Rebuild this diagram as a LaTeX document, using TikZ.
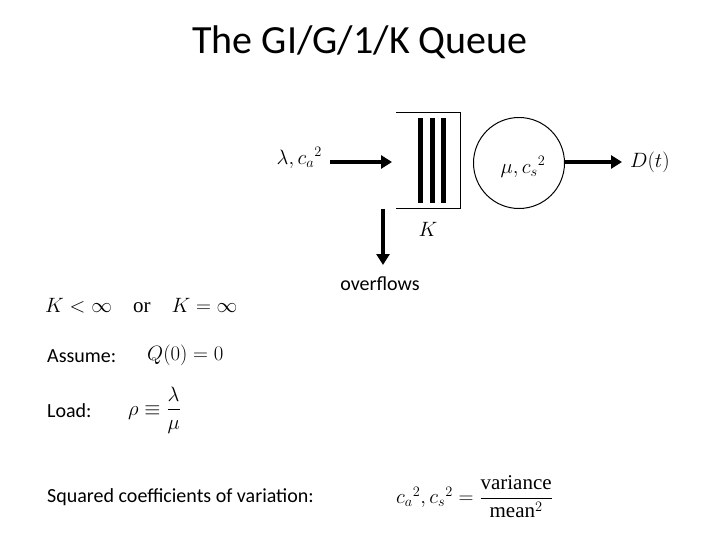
\documentclass[tikz,border=0pt]{standalone}
\usepackage{amsmath}
\usepackage{fontspec}
\setmainfont{Carlito}
\newfontfamily\tnr{Liberation Serif}
\usetikzlibrary{arrows.meta}
\begin{document}
\begin{tikzpicture}[x=1pt,y=-1pt,
  arr/.style={line width=3.5pt,-{Triangle[length=11pt,width=13pt]}},
  txt/.style={font=\fontsize{20}{24}\selectfont,anchor=west,inner sep=0},
  mth/.style={font=\fontsize{21}{25}\selectfont,inner sep=0}]
\useasboundingbox (0,0) rectangle (720,540);
\node[font=\fontsize{40}{46}\selectfont] (title) at (360,42) {The GI/G/1/K Queue};
% queue
\coordinate (b1) at (396,113);
\coordinate (b2) at (460,113);
\coordinate (b3) at (460,209);
\coordinate (b4) at (396,209);
\draw[line width=1pt] (b1) -- (b2) -- (b3) -- (b4);
\foreach \x in {420,432,443}{\draw[line width=5pt] (\x,118) -- (\x,203);}
\node[draw,circle,minimum size=91pt,line width=1pt,inner sep=0] (srv) at (519,163) {};
\node[mth] at (523,167) {$\mu,{c_s}^2$};
\node[mth,anchor=east] (lam) at (322,158) {$\lambda,{c_a}^2$};
\coordinate (in) at (392,162);
\draw[arr] (330,162) -- (in);
\node[mth,anchor=west] (dt) at (630,162) {$D(t)$};
\coordinate (out) at (622,162);
\draw[arr] (srv.east |- out) -- (out);
\node[mth] (K) at (428,229) {$K$};
\node[txt,anchor=center] (ovf) at (380,284) {overflows};
\coordinate (ovs) at (383,209);
\draw[arr] (ovs) -- (383,265);
% bottom
\node[mth,anchor=west] (k) at (45,306) {$K<\infty\quad\text{\tnr or}\quad K=\infty$};
\node[txt] (as) at (47,356) {Assume:};
\node[mth,anchor=west] (q) at (147,355) {$Q(0)=0$};
\node[txt] (ld) at (47,411) {Load:};
\node[mth,anchor=west] (rho) at (128,410) {$\rho\equiv\dfrac{\lambda}{\mu}$};
\node[txt] (sq) at (47,497) {Squared coefficients of variation:};
\node[mth,anchor=west] (cv) at (396,497) {${c_a}^2,{c_s}^2=\dfrac{\text{\tnr variance}}{\text{\tnr mean}^2}$};
\end{tikzpicture}
\end{document}
